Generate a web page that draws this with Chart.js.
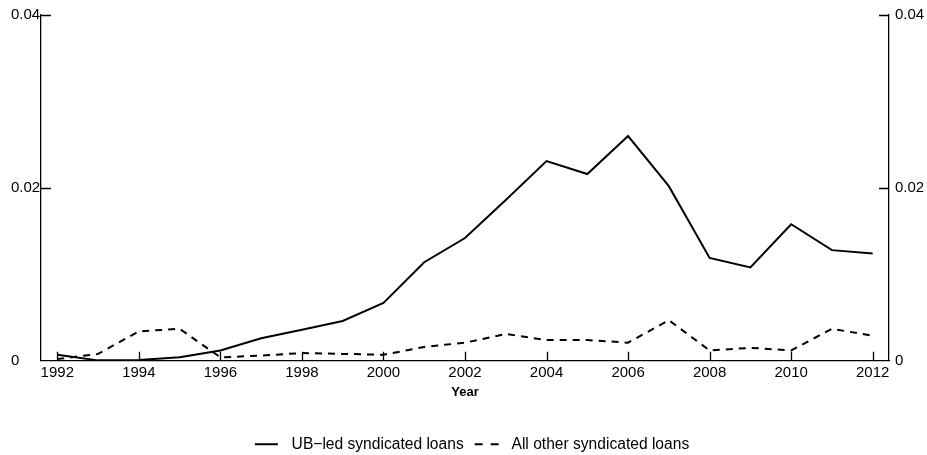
<!DOCTYPE html>
<html>
<head>
<meta charset="utf-8">
<script src="https://cdn.jsdelivr.net/npm/chart.js@4.4.0/dist/chart.umd.min.js"></script>
<style>
  html, body { margin: 0; padding: 0; background: #fff; }
  #wrap { width: 927px; height: 455px; }
</style>
</head>
<body>
<div id="wrap"><canvas id="grafico"></canvas></div>
<script>
const anos = [1992, 1993, 1994, 1995, 1996, 1997, 1998, 1999, 2000, 2001, 2002,
              2003, 2004, 2005, 2006, 2007, 2008, 2009, 2010, 2011, 2012];
const ubLed = [0.0007, 0.00005, 0.0001, 0.0004, 0.0012, 0.0026, 0.0036, 0.0046, 0.0067, 0.0114, 0.0142,
               0.0186, 0.0231, 0.0216, 0.0260, 0.0202, 0.0119, 0.0108, 0.0158, 0.0128, 0.0124];
const outros = [0.0002, 0.0008, 0.0034, 0.0037, 0.0004, 0.0006, 0.0009, 0.0008, 0.0007, 0.0016, 0.0021,
                0.0031, 0.0024, 0.0024, 0.0021, 0.0047, 0.0012, 0.0015, 0.0012, 0.0037, 0.0029];
const anosComTick = [1992, 1994, 1996, 1998, 2000, 2002, 2004, 2006, 2008, 2010, 2012];
const ticksY = [0, 0.02, 0.04];

const fonte = 'Liberation Sans, Arial, sans-serif';
const ctx = document.getElementById('grafico').getContext('2d');

// little pictures for the legend: a solid line and "- -", with blank room on both sides
function iconeDeLinha(tracejado) {
    const cv = document.createElement('canvas');
    cv.width = 38;
    cv.height = 4;
    const c = cv.getContext('2d');
    c.strokeStyle = '#000';
    c.lineWidth = 2;
    c.setLineDash(tracejado ? [8, 8] : []);
    c.beginPath();
    c.moveTo(9, 2);
    c.lineTo(tracejado ? 33 : 32, 2);
    c.stroke();
    return cv;
}

// ticks pointing into the plot, like the original
const ticksParaDentro = {
    id: 'ticksParaDentro',
    afterDraw(chart) {
        const c = chart.ctx;
        const x = chart.scales.x, y = chart.scales.y, y2 = chart.scales.y2;
        c.save();
        c.strokeStyle = '#000';
        c.lineWidth = 1.3;
        c.beginPath();
        x.ticks.forEach(t => {
            const px = Math.round(x.getPixelForValue(t.value)) + 0.5;
            c.moveTo(px, x.top);
            c.lineTo(px, x.top - 9);
        });
        y.ticks.forEach(t => {
            if (t.value === 0) return;
            const py = Math.round(y.getPixelForValue(t.value)) + 0.5;
            c.moveTo(y.right, py);
            c.lineTo(y.right + 10, py);
        });
        y2.ticks.forEach(t => {
            if (t.value === 0) return;
            const py = Math.round(y2.getPixelForValue(t.value)) + 0.5;
            c.moveTo(y2.left, py);
            c.lineTo(y2.left - 10, py);
        });
        c.stroke();
        c.restore();
    }
};

new Chart(ctx, {
    type: 'line',
    data: {
        datasets: [{
            label: 'UB\u2212led syndicated loans',
            data: anos.map((a, i) => ({ x: a, y: ubLed[i] })),
            borderColor: '#000',
            borderWidth: 2,
            pointRadius: 0,
            pointStyle: iconeDeLinha(false),
            tension: 0
        }, {
            label: 'All other syndicated loans',
            data: anos.map((a, i) => ({ x: a, y: outros[i] })),
            borderColor: '#000',
            borderWidth: 2,
            borderDash: [7, 6],
            pointRadius: 0,
            pointStyle: iconeDeLinha(true),
            tension: 0
        }]
    },
    options: {
        responsive: true,
        maintainAspectRatio: false,
        animation: false,
        layout: {
            padding: { left: 11, right: 3, top: 7, bottom: -7 }
        },
        plugins: {
            tooltip: { enabled: false },
            legend: {
                position: 'bottom',
                labels: {
                    color: '#000',
                    font: { family: fonte, size: 15.6 },
                    usePointStyle: true,
                    pointStyleWidth: 38,
                    padding: 2
                }
            }
        },
        scales: {
            x: {
                type: 'linear',
                min: 1991.6,
                max: 2012.4,
                afterBuildTicks: (escala) => { escala.ticks = anosComTick.map(v => ({ value: v })); },
                afterFit: (escala) => { escala.paddingLeft = 0; escala.paddingRight = 0; },
                grid: { display: true, drawOnChartArea: false, drawTicks: false },
                border: { display: true, color: '#000', width: 1.3 },
                ticks: {
                    color: '#000',
                    font: { family: fonte, size: 15 },
                    padding: 3,
                    maxRotation: 0,
                    callback: (v) => String(v)
                },
                title: {
                    display: true,
                    text: 'Year',
                    color: '#000',
                    font: { family: fonte, size: 13, weight: 'bold' },
                    padding: { top: 0, bottom: 34 }
                }
            },
            y: {
                position: 'left',
                min: 0,
                max: 0.04,
                afterBuildTicks: (escala) => { escala.ticks = ticksY.map(v => ({ value: v })); },
                afterFit: (escala) => { escala.width = 30; },
                grid: { display: true, drawOnChartArea: false, drawTicks: false },
                border: { display: true, color: '#000', width: 1.3 },
                ticks: {
                    color: '#000',
                    font: { family: fonte, size: 15 },
                    padding: 1,
                    crossAlign: 'far',
                    callback: (v) => v === 0 ? '0' : v.toFixed(2)
                }
            },
            y2: {
                position: 'right',
                min: 0,
                max: 0.04,
                afterBuildTicks: (escala) => { escala.ticks = ticksY.map(v => ({ value: v })); },
                afterFit: (escala) => { escala.width = 35; },
                grid: { display: true, drawOnChartArea: false, drawTicks: false },
                border: { display: true, color: '#000', width: 1.3 },
                ticks: {
                    color: '#000',
                    font: { family: fonte, size: 15 },
                    padding: 6,
                    callback: (v) => v === 0 ? '0' : v.toFixed(2)
                }
            }
        }
    },
    plugins: [ticksParaDentro]
});
</script>
</body>
</html>
